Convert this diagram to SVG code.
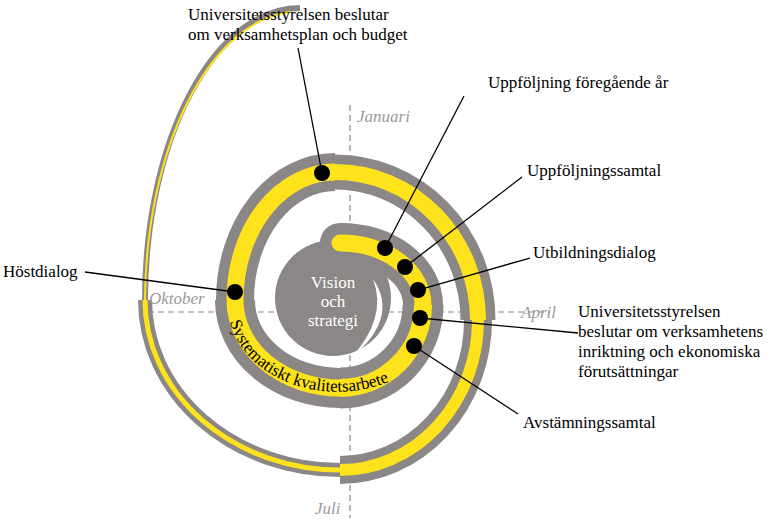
<svg xmlns="http://www.w3.org/2000/svg" width="781" height="526" viewBox="0 0 781 526">
<style>
.g{fill:none;stroke:#8b8786}
.y{fill:none;stroke:#fde21c}
.lbl{font-family:'Liberation Serif','DejaVu Serif','Times New Roman',serif;font-size:17px;fill:#000}
.mon{font-family:'Liberation Serif','DejaVu Serif','Times New Roman',serif;font-size:17px;font-style:italic;fill:#9a9a9a}
.ax{stroke:#8b8786;stroke-width:1.2;stroke-dasharray:6 4;fill:none}
.ln{stroke:#000;stroke-width:1.3;fill:none}
.dot{fill:#000}
</style>
<rect width="781" height="526" fill="#fff"/>
<g id="axes">
<line class="ax" x1="350" y1="105" x2="350" y2="518"/>
<line class="ax" x1="148" y1="312" x2="550" y2="312"/>
</g>
<g id="spiral">
<path class="g" stroke-width="40" stroke-linecap="round" d="M340,243 A83 62 0 0 1 423,305"/>
<path class="g" stroke-width="41" d="M423,305 A83 83 0 0 1 340,388"/>
<path class="g" stroke-width="40" d="M340,388 A105 88 0 0 1 235,300"/>
<path class="g" stroke-width="38" d="M235,300 A100 128 0 0 1 335,172"/>
<path class="g" stroke-width="35" d="M335,172 A143 148 0 0 1 478,320"/>
<path class="g" stroke-width="28" d="M478,320 A138 150 0 0 1 340,470"/>
<path class="g" stroke-width="14" d="M340,470 A195 170 0 0 1 145,300"/>
<path class="g" stroke-width="6" d="M145,300 A155 292 0 0 1 300,8"/>
<circle cx="333" cy="298" r="58" fill="#8b8786"/>
<path d="M373,279 Q400,318 350,359 Q388,318 373,279 Z" fill="#fff"/>
<path class="y" stroke-width="17" stroke-linecap="round" d="M340,243 A83 62 0 0 1 423,305"/>
<path class="y" stroke-width="18" d="M423,305 A83 83 0 0 1 340,388"/>
<path class="y" stroke-width="17" d="M340,388 A105 88 0 0 1 235,300"/>
<path class="y" stroke-width="17" d="M235,300 A100 128 0 0 1 335,172"/>
<path class="y" stroke-width="16" d="M335,172 A143 148 0 0 1 478,320"/>
<path class="y" stroke-width="12" d="M478,320 A138 150 0 0 1 340,470"/>
<path class="y" stroke-width="5" d="M340,470 A195 170 0 0 1 145,300"/>
<path class="y" stroke-width="2" d="M145,300 A155 292 0 0 1 290,12"/>
</g>
<g id="center">
<text class="lbl" font-size="18" text-anchor="middle" style="fill:#fff"><tspan x="333" y="288">Vision</tspan><tspan x="333" y="307">och</tspan><tspan x="333" y="326">strategi</tspan></text>
<path id="tp" d="M229,318 A110 88 0 0 0 420,362" fill="none"/>
<text class="lbl" font-size="16"><textPath href="#tp" startOffset="4">Systematiskt kvalitetsarbete</textPath></text>
</g>
<g id="months">
<text class="mon" x="357" y="122">Januari</text>
<text class="mon" x="149" y="304">Oktober</text>
<text class="mon" x="521" y="318">April</text>
<text class="mon" x="315" y="514">Juli</text>
</g>
<g id="connectors">
<line class="ln" x1="298" y1="48" x2="322" y2="173"/>
<line class="ln" x1="464" y1="96" x2="385" y2="248"/>
<line class="ln" x1="522" y1="177" x2="405" y2="267"/>
<line class="ln" x1="530" y1="258" x2="418" y2="290"/>
<line class="ln" x1="578" y1="333" x2="420" y2="318"/>
<line class="ln" x1="518" y1="414" x2="414" y2="346"/>
<line class="ln" x1="85" y1="272" x2="235" y2="292"/>
</g>
<g id="dots">
<circle class="dot" cx="322" cy="173" r="8"/>
<circle class="dot" cx="385" cy="248" r="8"/>
<circle class="dot" cx="405" cy="267" r="8"/>
<circle class="dot" cx="418" cy="290" r="8"/>
<circle class="dot" cx="420" cy="318" r="8"/>
<circle class="dot" cx="414" cy="346" r="8"/>
<circle class="dot" cx="235" cy="292" r="8"/>
</g>
<g id="n-budget"><text class="lbl"><tspan x="188" y="20">Universitetsstyrelsen beslutar</tspan><tspan x="188" y="40">om verksamhetsplan och budget</tspan></text></g>
<g id="n-uppfar"><text class="lbl" x="488" y="88">Uppföljning föregående år</text></g>
<g id="n-uppsamt"><text class="lbl" x="527" y="176">Uppföljningssamtal</text></g>
<g id="n-utb"><text class="lbl" x="533" y="258">Utbildningsdialog</text></g>
<g id="n-inrikt"><text class="lbl"><tspan x="578" y="317">Universitetsstyrelsen</tspan><tspan x="578" y="337">beslutar om verksamhetens</tspan><tspan x="578" y="357">inriktning och ekonomiska</tspan><tspan x="578" y="377">förutsättningar</tspan></text></g>
<g id="n-avst"><text class="lbl" x="523" y="428">Avstämningssamtal</text></g>
<g id="n-host"><text class="lbl" x="3" y="277">Höstdialog</text></g>
</svg>
